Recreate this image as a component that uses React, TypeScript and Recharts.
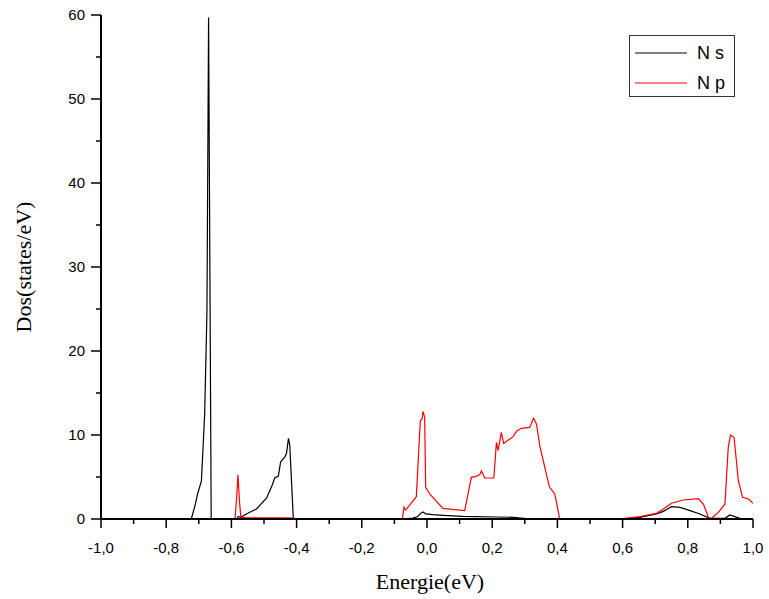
import React from 'react';
import { LineChart, Line, XAxis, YAxis, Legend } from 'recharts';

const nsEnergy = [-1, -0.723, -0.710, -0.703, -0.692, -0.682, -0.675, -0.670, -0.662, -0.60, -0.585, -0.579, -0.572, -0.554, -0.523, -0.492, -0.474, -0.467, -0.456, -0.449, -0.436, -0.431, -0.425, -0.421, -0.410, -0.40, -0.069, -0.043, -0.028, -0.020, -0.012, -0.004, 0.018, 0.049, 0.110, 0.213, 0.264, 0.305, 0.32, 0.55, 0.602, 0.653, 0.704, 0.725, 0.750, 0.776, 0.807, 0.837, 0.868, 0.914, 0.929, 0.960, 0.98, 1.0];
const nsDos = [0, 0, 1.85, 3.1, 4.5, 12.5, 24.7, 59.7, 0, 0, 0, 0.3, 0.2, 0.6, 1.2, 2.5, 4.1, 4.9, 5.1, 6.8, 7.4, 7.8, 9.6, 8.8, 0, 0, 0, 0.12, 0.3, 0.67, 0.83, 0.6, 0.52, 0.44, 0.32, 0.24, 0.2, 0.04, 0, 0, 0.02, 0.2, 0.6, 0.91, 1.47, 1.39, 0.99, 0.6, 0.08, 0.08, 0.48, 0.08, 0, 0];

const npEnergy = [-1, -0.589, -0.584, -0.580, -0.575, -0.571, -0.55, -0.45, -0.41, -0.405, -0.0757, -0.0706, -0.0655, -0.0327, -0.0205, -0.0153, -0.0123, -0.0072, -0.0041, 0.0082, 0.049, 0.1156, 0.136, 0.151, 0.162, 0.167, 0.177, 0.205, 0.213, 0.218, 0.228, 0.235, 0.264, 0.276, 0.290, 0.315, 0.327, 0.336, 0.346, 0.366, 0.376, 0.392, 0.407, 0.55, 0.602, 0.653, 0.704, 0.725, 0.750, 0.786, 0.832, 0.848, 0.863, 0.870, 0.894, 0.914, 0.924, 0.931, 0.942, 0.955, 0.968, 0.986, 1.0];
const npDos = [0, 0, 2.5, 5.26, 2.0, 0.2, 0.15, 0.15, 0.1, 0, 0, 1.39, 1.07, 2.66, 11.7, 11.9, 12.8, 12.1, 3.77, 2.98, 1.27, 0.99, 4.96, 5.08, 5.28, 5.75, 4.88, 4.88, 9.13, 8.13, 10.3, 9.0, 9.8, 10.5, 10.8, 10.9, 12.0, 11.3, 8.7, 5.36, 3.77, 2.98, 0, 0, 0.04, 0.28, 0.67, 1.19, 1.87, 2.26, 2.42, 1.79, 0.2, 0, 0.79, 1.79, 8.5, 10.0, 9.7, 4.56, 2.58, 2.38, 1.87];

const xTicks = [-1, -0.9, -0.8, -0.7, -0.6, -0.5, -0.4, -0.3, -0.2, -0.1, 0, 0.1, 0.2, 0.3, 0.4, 0.5, 0.6, 0.7, 0.8, 0.9, 1];
const yTicks = [0, 5, 10, 15, 20, 25, 30, 35, 40, 45, 50, 55, 60];

const seriesNames = ['N s', 'N p'];
const seriesColors = ['#000000', '#ff0000'];

const nsData = nsEnergy.map((x, i) => ({ x, y: nsDos[i] }));
const npData = npEnergy.map((x, i) => ({ x, y: npDos[i] }));

const SANS = '"Liberation Sans", Arial, sans-serif';
const SERIF = '"Liberation Serif", "Times New Roman", serif';

const XTick = (props: any) => {
  const { x, y, payload } = props;
  const v = payload.value as number;
  const major = Math.abs(Math.round(v * 10)) % 2 === 0;
  return (
    <g>
      <line x1={x} x2={x} y1={y} y2={y + (major ? 9 : 5)} stroke="#000" strokeWidth={1.5} />
      {major && (
        <text x={x} y={y + 34} textAnchor="middle" fontSize={15} fontFamily={SANS} fill="#000">
          {v.toFixed(1).replace('.', ',')}
        </text>
      )}
    </g>
  );
};

const YTick = (props: any) => {
  const { x, y, payload } = props;
  const v = payload.value as number;
  const major = v % 10 === 0;
  return (
    <g>
      <line x1={x} x2={x - (major ? 10 : 5)} y1={y} y2={y} stroke="#000" strokeWidth={1.5} />
      {major && (
        <text x={x - 16} y={y + 5} textAnchor="end" fontSize={15} fontFamily={SANS} fill="#000">
          {String(v)}
        </text>
      )}
    </g>
  );
};

const LegendBox = () => (
  <div style={{ width: 104, height: 60, border: '1px solid #333', background: '#fff', position: 'relative', fontFamily: SANS, fontSize: 18 }}>
    {seriesNames.map((n, i) => (
      <div key={n} style={{ position: 'absolute', left: 5, top: 6 + i * 30, height: 22, display: 'flex', alignItems: 'center' }}>
        <svg width={54} height={4} style={{ display: 'block' }}>
          <line x1={0} x2={52} y1={2} y2={2} stroke={seriesColors[i]} strokeWidth={1} />
        </svg>
        <span style={{ marginLeft: 8, color: '#000', whiteSpace: 'pre' }}>{n}</span>
      </div>
    ))}
  </div>
);

export default function App() {
  return (
    <div style={{ position: 'absolute', left: 0, top: 0, width: 769, height: 599 }}>
      <LineChart width={769} height={599} margin={{ top: 15, right: 16, bottom: 5, left: 0 }}>
        <XAxis
          type="number"
          dataKey="x"
          domain={[-1, 1]}
          ticks={xTicks}
          interval={0}
          tickSize={0}
          tickMargin={0}
          tickLine={false}
          tick={<XTick />}
          axisLine={{ stroke: '#000', strokeWidth: 2 }}
          height={75}
          allowDataOverflow
          label={{
            content: (p: any) => {
              const vb = p.viewBox || {};
              return (
                <text x={vb.x + vb.width / 2 + 3} y={589} textAnchor="middle" fontSize={22} fontFamily={SERIF} fill="#000">
                  Energie(eV)
                </text>
              );
            },
          }}
        />
        <XAxis xAxisId="top" orientation="top" type="number" domain={[-1, 1]} height={0} tick={false} tickLine={false} axisLine={{ stroke: '#666', strokeWidth: 1 }} />
        <YAxis
          type="number"
          domain={[0, 60]}
          ticks={yTicks}
          interval={0}
          tickSize={0}
          tickMargin={0}
          tickLine={false}
          tick={<YTick />}
          axisLine={{ stroke: '#000', strokeWidth: 2 }}
          width={101}
          allowDataOverflow
          label={{
            content: (p: any) => {
              const vb = p.viewBox || {};
              const cy = vb.y + vb.height / 2;
              return (
                <text x={31} y={cy} transform={`rotate(-90, 31, ${cy})`} textAnchor="middle" fontSize={22} fontFamily={SERIF} fill="#000">
                  Dos(states/eV)
                </text>
              );
            },
          }}
        />
        <YAxis yAxisId="right" orientation="right" width={0} tick={false} tickLine={false} axisLine={{ stroke: '#666', strokeWidth: 1 }} />
        <Line data={nsData} dataKey="y" name={seriesNames[0]} type="linear" stroke={seriesColors[0]} strokeWidth={1.2} dot={false} isAnimationActive={false} />
        <Line data={npData} dataKey="y" name={seriesNames[1]} type="linear" stroke={seriesColors[1]} strokeWidth={1.2} dot={false} isAnimationActive={false} />
        <Legend layout="vertical" align="center" verticalAlign="middle" content={<LegendBox />} wrapperStyle={{ left: 629, top: 35, width: 106, height: 62 }} />
      </LineChart>
    </div>
  );
}
